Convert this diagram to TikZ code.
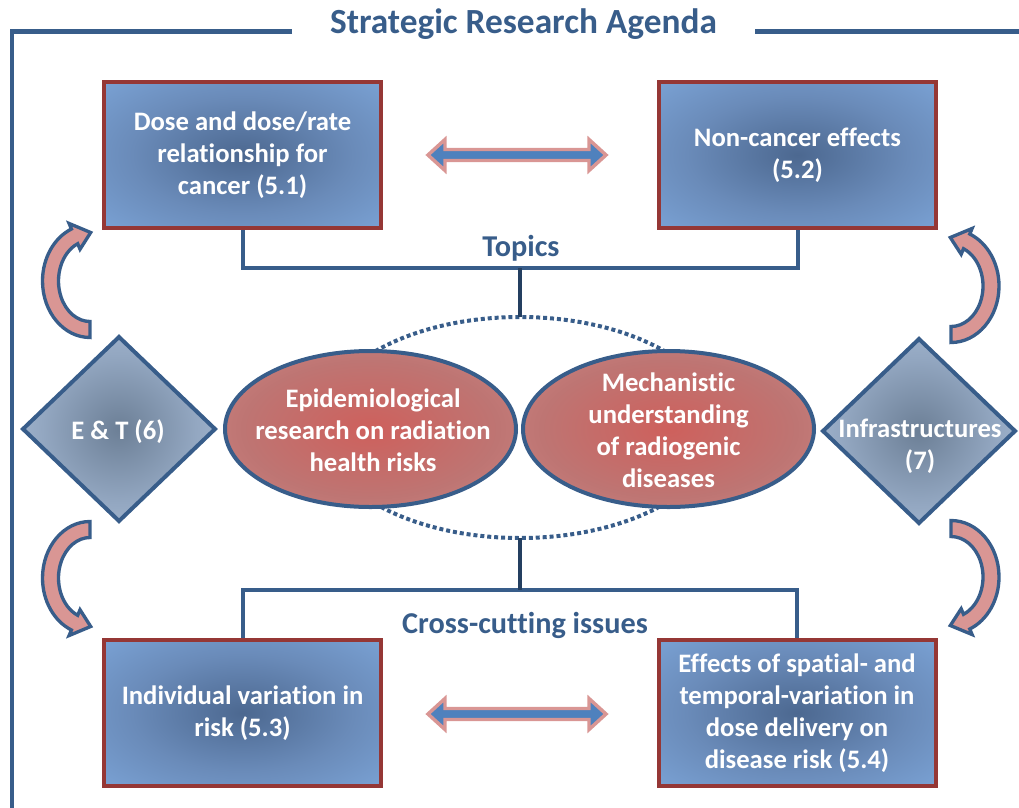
\documentclass[tikz,border=0pt]{standalone}
\usepackage{fontspec}
\setmainfont{Carlito}[Ligatures=NoCommon]
\usetikzlibrary{shapes.geometric,calc,backgrounds}

\definecolor{frame}{HTML}{385D8A}
\definecolor{navy}{HTML}{243F60}
\definecolor{boxred}{HTML}{953735}
\definecolor{pinkfill}{HTML}{D99694}
\definecolor{arrowblue}{HTML}{4F81BD}
\definecolor{boxin}{HTML}{4C6890}
\definecolor{boxmid}{HTML}{6A8BB9}
\definecolor{boxout}{HTML}{82ADE2}
\definecolor{ellin}{HTML}{CE605C}
\definecolor{ellmid}{HTML}{BE7573}
\definecolor{ellout}{HTML}{D8918E}
\definecolor{diain}{HTML}{6C7F96}
\definecolor{diamid}{HTML}{93A7C1}
\definecolor{diaout}{HTML}{B3C5DD}

\pgfdeclareradialshading{boxshade}{\pgfpoint{0bp}{0bp}}{color(0bp)=(boxin); color(20bp)=(boxmid); color(44bp)=(boxout); color(100bp)=(boxout)}
\pgfdeclareradialshading{ellshade}{\pgfpoint{0bp}{0bp}}{color(0bp)=(ellin); color(22bp)=(ellmid); color(44bp)=(ellout); color(100bp)=(ellout)}
\pgfdeclareradialshading{diashade}{\pgfpoint{0bp}{0bp}}{color(0bp)=(diain); color(20bp)=(diamid); color(40bp)=(diaout); color(100bp)=(diaout)}

\tikzset{
  rbox/.style={draw=boxred, line width=3pt, shading=boxshade, shade, rectangle,
    minimum width=207.75pt, minimum height=109.5pt, inner sep=0pt, outer sep=0pt,
    text=white, font=\bfseries\fontsize{20}{24}\selectfont, align=center},
  oval/.style={ellipse, draw=frame, line width=3pt, shading=ellshade, shade,
    minimum width=218.25pt, minimum height=117pt, inner sep=0pt, outer sep=0pt},
  dia/.style={diamond, draw=frame, line width=3pt, shading=diashade, shade,
    minimum width=144pt, minimum height=138pt, inner sep=0pt, outer sep=0pt},
  intext/.style={text=white, font=\bfseries\fontsize{20}{24}\selectfont, align=center, inner sep=0pt},
  lbl/.style={text=frame, font=\bfseries\fontsize{22.7}{27}\selectfont, inner sep=0pt},
  frameline/.style={draw=frame, line width=3.2pt},
  bline/.style={draw=frame, line width=3pt},
  navyline/.style={draw=navy, line width=3pt},
  dotring/.style={ellipse, draw=frame, line width=3pt, dash pattern=on 3pt off 2.2pt,
    minimum width=300pt, minimum height=165.75pt, inner sep=0pt, outer sep=0pt},
  dbl/.style={fill=arrowblue, draw=pinkfill, line width=2.6pt, line join=miter},
  curvarrow/.style={fill=pinkfill, draw=frame, line width=2.5pt, line join=miter}
}

% cx cy rx ry tail base tip
\newcommand{\cArrow}[7]{%
  \draw[curvarrow] ($(#1,#2)+({#5}:{#3+8} and {#4+8})$)
    arc[start angle=#5, end angle=#6, x radius={#3+8}, y radius={#4+8}]
    -- ($(#1,#2)+({#6}:{#3+14} and {#4+14})$)
    -- ($(#1,#2)+({#7}:{#3} and {#4})$)
    -- ($(#1,#2)+({#6}:{#3-14} and {#4-14})$)
    -- ($(#1,#2)+({#6}:{#3-8} and {#4-8})$)
    arc[start angle=#6, end angle=#5, x radius={#3-8}, y radius={#4-8}]
    -- cycle;}

% x1 x2 y
\newcommand{\dblArr}[3]{%
  \draw[dbl] (#1,#3) -- ({#1+17},{#3-15.5}) -- ({#1+17},{#3-5.5}) -- ({#2-17},{#3-5.5})
    -- ({#2-17},{#3-15.5}) -- (#2,#3) -- ({#2-17},{#3+15.5}) -- ({#2-17},{#3+5.5})
    -- ({#1+17},{#3+5.5}) -- ({#1+17},{#3+15.5}) -- cycle;}

\begin{document}
\begin{tikzpicture}[x=0.75pt,y=-0.75pt]
\useasboundingbox (0,0) rectangle (1019,807);

% title and frame
\node[text=frame, font=\bfseries\fontsize{26.5}{32}\selectfont, inner sep=0pt, anchor=base] (title) at (523.5,33.5) {Strategic Research Agenda};
\draw[frameline] (292,31.5) -| (12,810);
\draw[frameline] (755,31.5) -- (1022,31.5);

% boxes
\node[rbox] (b1) at (242.5,155) {Dose and dose/rate\\relationship for\\cancer (5.1)};
\node[rbox] (b2) at (797.5,155) {Non-cancer effects\\(5.2)};
\node[rbox] (b3) at (242.5,713) {Individual variation in\\risk (5.3)};
\node[rbox] (b4) at (797,713) {Effects of spatial- and\\temporal-variation in\\dose delivery on\\disease risk (5.4)};

% central dotted ring and ovals
\node[dotring] (ring) at (520,427.5) {};
\node[oval] (e1) at (370.5,429) {};
\node[oval] (e2) at (668.5,429) {};
\node[intext] (e1t) at (373,430) {Epidemiological\\research on radiation\\health risks};
\node[intext] (e2t) at (668.5,430) {Mechanistic\\understanding\\of radiogenic\\diseases};

% diamonds
\node[dia] (d1) at (119,429) {};
\node[dia] (d2) at (919,431) {};
\node[intext] (d1t) at (118,432) {E \& T (6)};
\node[intext] (d2t) at (920,446) {Infrastructures\\(7)};

% brackets
\coordinate (tmid) at (520,268);
\coordinate (bmid) at (520,590);
\begin{scope}[on background layer]
  \draw[bline] (b1.south) |- (tmid) -| (b2.south);
  \draw[bline] (b3.north) |- (bmid) -| (b4.north);
\end{scope}
\draw[navyline] (tmid) -- (ring.north);
\draw[navyline] (ring.south) -- (bmid);

\node[lbl, anchor=base] (topics) at (521,256) {Topics};
\node[lbl, anchor=base] (cross) at (525,633) {Cross-cutting issues};

% double arrows
\dblArr{428}{606}{155}
\dblArr{428}{606}{714}

% curved arrows
\cArrow{90}{281}{39.5}{48.5}{90}{247}{271}
\cArrow{90}{578}{39.5}{48.5}{270}{113}{89}
\cArrow{951}{286}{40}{48.5}{90}{-67}{-91}
\cArrow{951}{577}{40}{48.5}{270}{427}{451}
\end{tikzpicture}
\end{document}
